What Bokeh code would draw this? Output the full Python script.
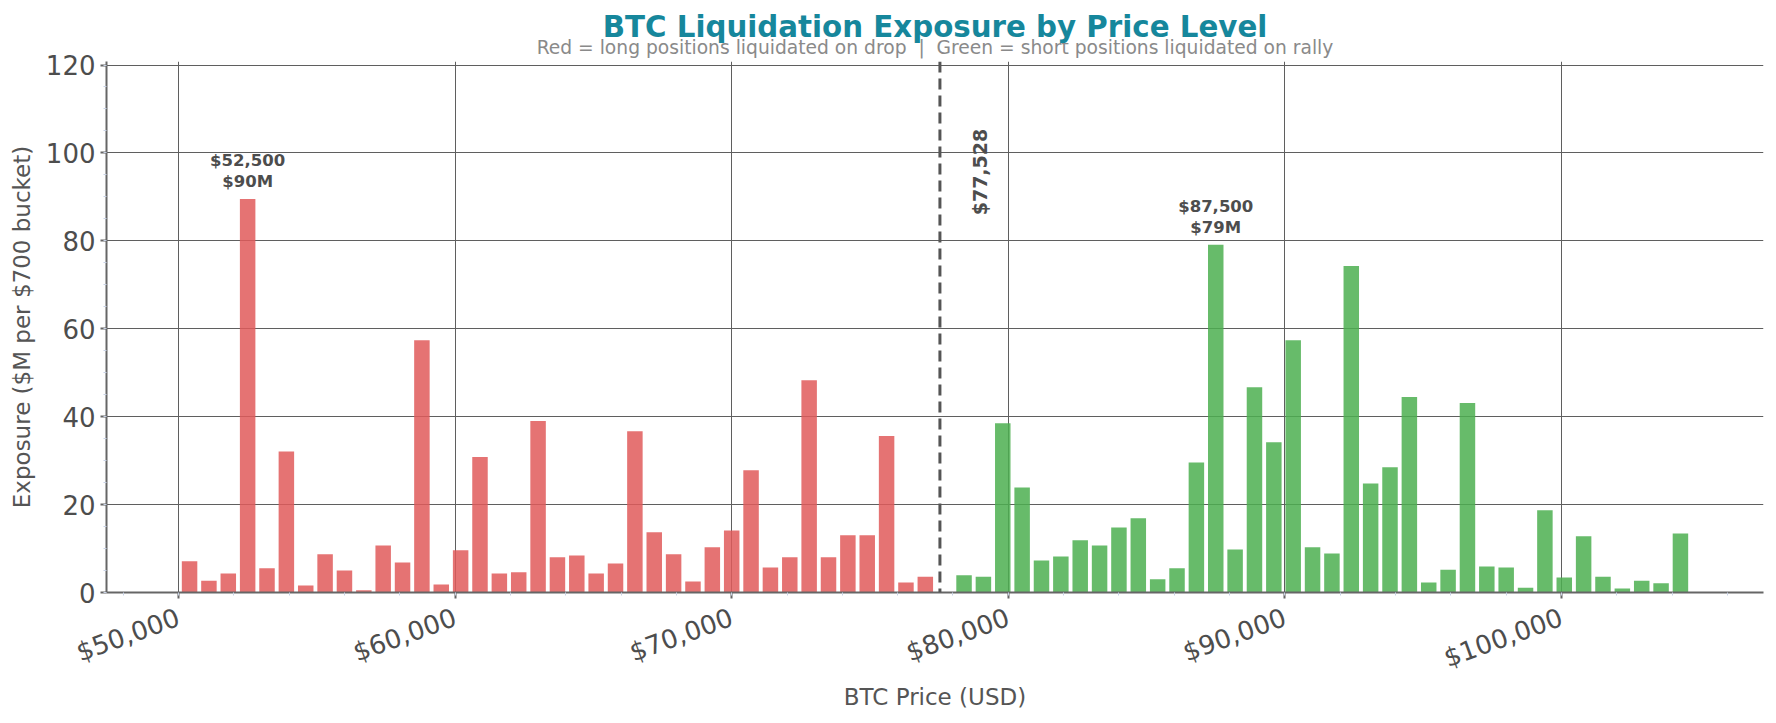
import math
from bokeh.plotting import figure
from bokeh.models import (Range1d, Span, Label, Title, SingleIntervalTicker,
                          NumeralTickFormatter, ColumnDataSource)
from bokeh.core.properties import value
from bokeh.embed import file_html
from bokeh.resources import INLINE

# $700 buckets below the current price (longs liquidated on a drop)
long_prices = [50400, 51100, 51800, 52500, 53200, 53900, 54600, 55300, 56000, 56700,
               57400, 58100, 58800, 59500, 60200, 60900, 61600, 62300, 63000, 63700,
               64400, 65100, 65800, 66500, 67200, 67900, 68600, 69300, 70000, 70700,
               71400, 72100, 72800, 73500, 74200, 74900, 75600, 76300, 77000]
long_exposure = [7.1, 2.7, 4.3, 89.5, 5.5, 32.1, 1.6, 8.7, 5.0, 0.5,
                 10.7, 6.8, 57.4, 1.8, 9.6, 30.8, 4.3, 4.6, 39.0, 8.0,
                 8.4, 4.3, 6.6, 36.7, 13.7, 8.7, 2.5, 10.3, 14.1, 27.8,
                 5.7, 8.0, 48.3, 8.0, 13.0, 13.0, 35.6, 2.3, 3.6]

# $700 buckets above the current price (shorts liquidated on a rally)
short_prices = [78400, 79100, 79800, 80500, 81200, 81900, 82600, 83300, 84000, 84700,
                85400, 86100, 86800, 87500, 88200, 88900, 89600, 90300, 91000, 91700,
                92400, 93100, 93800, 94500, 95200, 95900, 96600, 97300, 98000, 98700,
                99400, 100100, 100800, 101500, 102200, 102900, 103600, 104300]
short_exposure = [3.9, 3.6, 38.5, 23.9, 7.3, 8.2, 11.9, 10.7, 14.8, 16.9,
                  3.0, 5.5, 29.6, 79.1, 9.8, 46.7, 34.2, 57.4, 10.3, 8.9,
                  74.3, 24.8, 28.5, 44.5, 2.3, 5.2, 43.1, 5.9, 5.7, 1.1,
                  18.7, 3.4, 12.8, 3.6, 0.9, 2.7, 2.1, 13.4]

current_price = 77528
bucket = 700

FONT = "DejaVu Sans"
TXT = "#4d4d4d"
NB = "\u00a0"

p = figure(title=None, frame_width=1657, frame_height=531,
           x_range=Range1d(47397, 107303), y_range=Range1d(0, 120.8),
           output_backend="svg", toolbar_location=None,
           min_border_left=106, min_border_right=7, min_border_top=61, min_border_bottom=128)
p.outline_line_color = None
p.background_fill_color = "white"
p.border_fill_color = "white"

# bars
p.vbar(x=long_prices, top=long_exposure, width=bucket * 0.8,
       fill_color="#e15b5b", fill_alpha=0.85, line_color=None)
p.vbar(x=short_prices, top=short_exposure, width=bucket * 0.8,
       fill_color="#4caf50", fill_alpha=0.85, line_color=None)

# current price marker
p.add_layout(Span(location=current_price, dimension="height", line_color="#555555",
                  line_width=3, line_dash="11 6"))
p.add_layout(Label(x=current_price, y=105.5, x_offset=40, angle=math.pi / 2,
                   text="${:,.0f}".format(current_price), text_align="right",
                   text_baseline="middle", text_font=FONT, text_font_size="19px",
                   text_font_style="bold", text_color=TXT))

# peak annotations
peaks_x = []
peaks_y = []
peaks_t = []
for prices, vals in ((long_prices, long_exposure), (short_prices, short_exposure)):
    i = vals.index(max(vals))
    peaks_x.append(prices[i])
    peaks_y.append(vals[i])
    peaks_t.append("${:,.0f}\n${:.0f}M".format(prices[i], vals[i]))
src = ColumnDataSource(dict(x=peaks_x, y=peaks_y, t=peaks_t))
p.text(x="x", y="y", text="t", source=src, y_offset=-8, text_align="center",
       text_baseline="bottom", text_font=value(FONT), text_font_size="16.5px",
       text_font_style="bold", text_color=TXT, text_line_height=1.1)

# subtitle (closest to the plot) then title
sub = "Red = long positions liquidated on drop" + NB * 2 + "|" + NB * 2 + \
      "Green = short positions liquidated on rally"
p.add_layout(Title(text=sub, align="center", text_font=FONT, text_font_size="18.7px",
                   text_font_style="normal", text_color="#8a8a8a", standoff=8), "above")
p.add_layout(Title(text="BTC Liquidation Exposure by Price Level", align="center",
                   text_font=FONT, text_font_size="29.3px", text_font_style="bold",
                   text_color="#16879c", standoff=-27), "above")

# axes
p.xaxis.ticker = SingleIntervalTicker(interval=10000, num_minor_ticks=5)
p.yaxis.ticker = SingleIntervalTicker(interval=20, num_minor_ticks=4)
p.xaxis.formatter = NumeralTickFormatter(format="$0,0")
p.xaxis.major_label_orientation = 20 * math.pi / 180
p.xaxis.axis_label = "BTC Price (USD)"
p.yaxis.axis_label = "Exposure ($M per $700 bucket)"

for ax in (p.xaxis, p.yaxis):
    ax.axis_line_color = "#666666"
    ax.axis_line_width = 2
    ax.major_tick_line_color = "#666666"
    ax.major_tick_line_width = 2
    ax.major_tick_out = 6
    ax.major_tick_in = 0
    ax.minor_tick_line_color = "#c9d3e6"
    ax.minor_tick_line_width = 1
    ax.minor_tick_out = 3
    ax.minor_tick_in = 0
    ax.major_label_text_font = FONT
    ax.major_label_text_font_size = "26px"
    ax.major_label_text_color = TXT
    ax.axis_label_text_font = FONT
    ax.axis_label_text_font_size = "23px"
    ax.axis_label_text_font_style = "normal"
    ax.axis_label_text_color = "#555555"

p.yaxis.major_label_standoff = 5
p.xaxis.major_label_standoff = 18
p.yaxis.axis_label_standoff = 8
p.xaxis.axis_label_standoff = -6

p.xgrid.grid_line_color = "#5f5f5f"
p.ygrid.grid_line_color = "#5f5f5f"
p.xgrid.grid_line_width = 1
p.ygrid.grid_line_width = 1

open("out.html", "w").write(file_html(p, INLINE))
